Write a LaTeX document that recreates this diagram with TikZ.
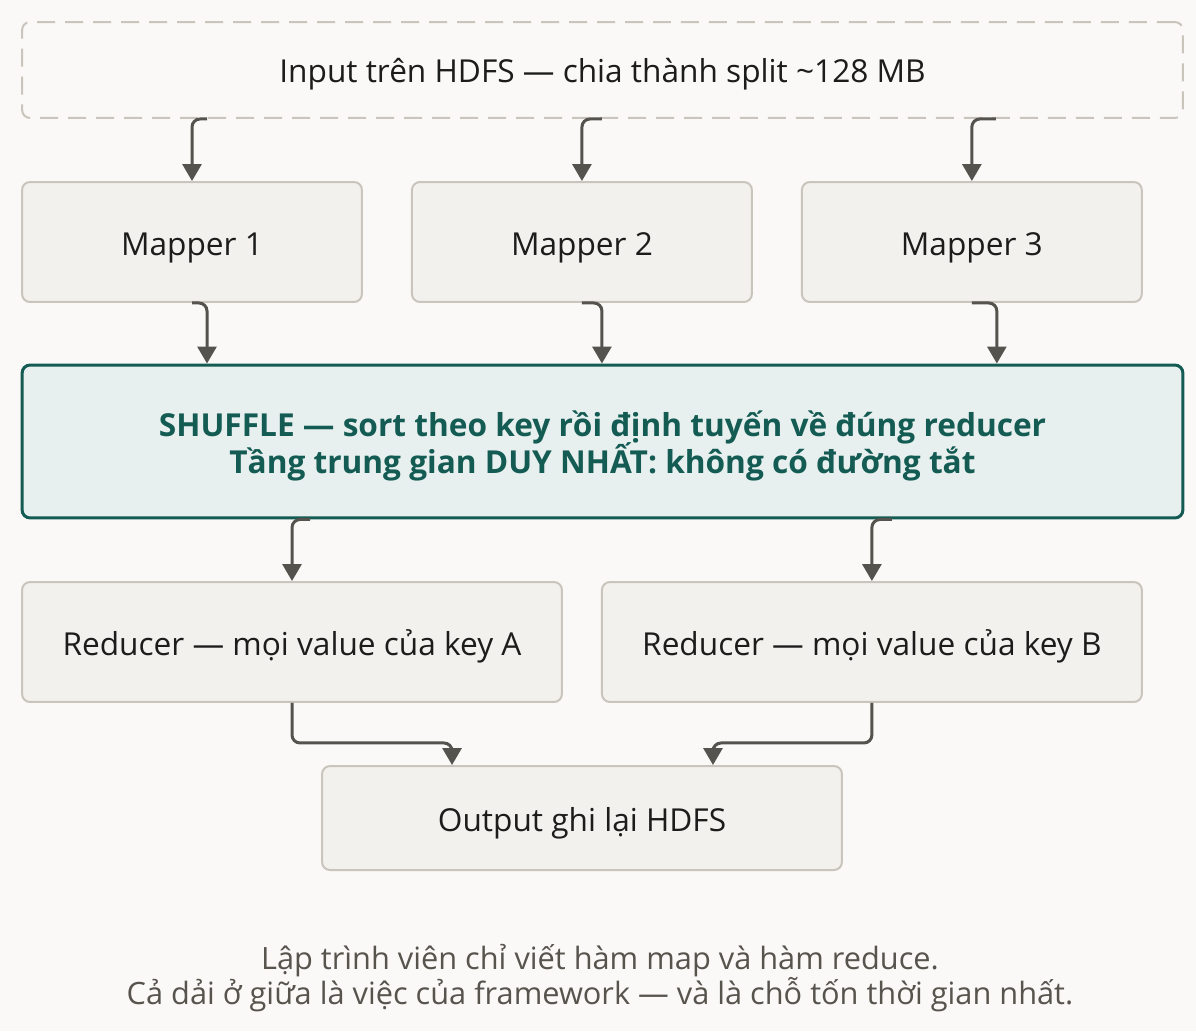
\documentclass[tikz,border=0pt]{standalone}
\usepackage{fontspec}
\setmainfont{Open Sans}
\usetikzlibrary{arrows.meta, positioning}

\definecolor{bgcol}{HTML}{FAF9F7}
\definecolor{boxfill}{HTML}{F2F1EE}
\definecolor{boxline}{HTML}{C9C5BD}
\definecolor{arrowcol}{HTML}{55534E}
\definecolor{tealcol}{HTML}{145B54}
\definecolor{tealfill}{HTML}{E7F0EE}
\definecolor{inkcol}{HTML}{1C1C1A}
\definecolor{notecol}{HTML}{57544E}

\begin{document}
\begin{tikzpicture}[x=0.02cm,y=-0.02cm,>={Triangle[length=0.34cm,width=0.38cm]},
	font=\fontsize{18}{22}\selectfont]

	\tikzset{box/.style={draw=boxline, line width=0.04cm, fill=boxfill,
			rounded corners=0.16cm, text=inkcol, inner sep=0pt,
			text height=0.52cm, text depth=0cm}}
	\tikzset{mapbox/.style={box, minimum width=6.8cm, minimum height=2.4cm}}
	\tikzset{redbox/.style={box, minimum width=10.8cm, minimum height=2.4cm}}
	\tikzset{flow/.style={->, draw=arrowcol, line width=0.06cm,
			rounded corners=0.16cm}}

	\fill[bgcol] (0,0) rectangle (1196,1031);

	\node[box, fill=none, dashed, dash pattern=on 0.36cm off 0.2cm,
		minimum width=23.22cm, minimum height=1.92cm] (input) at (602.5,70)
		{Input trên HDFS — chia thành split \textasciitilde128 MB};

	\node[mapbox] (m1) at (192,242) {Mapper 1};
	\node[mapbox, right=0.96cm of m1] (m2) {Mapper 2};
	\node[mapbox, right=0.96cm of m2] (m3) {Mapper 3};

	\node[draw=tealcol, fill=tealfill, line width=0.06cm, rounded corners=0.16cm,
		minimum width=23.22cm, minimum height=3.06cm, align=center,
		text=tealcol, inner sep=0pt, text height=1.26cm, text depth=0cm,
		font=\fontsize{18}{21.6}\selectfont\bfseries]
		(shuffle) at (602.5,441.5)
		{SHUFFLE — sort theo key rồi định tuyến về đúng reducer\\[-2.3pt]
		 Tầng trung gian DUY NHẤT: không có đường tắt};

	\node[redbox] (redA) at (292,642) {Reducer — mọi value của key A};
	\node[redbox, right=0.76cm of redA] (redB) {Reducer — mọi value của key B};

	\node[box, minimum width=10.4cm, minimum height=2.08cm] (out) at (582,818)
		{Output ghi lại HDFS};

	\node[align=center, text=notecol, font=\fontsize{17.5}{19.9}\selectfont]
		(note) at (600,978)
		{Lập trình viên chỉ viết hàm map và hàm reduce.\\
		 Cả dải ở giữa là việc của framework — và là chỗ tốn thời gian nhất.};

	% input -> mappers
	\draw[flow] ([xshift=0.3cm]m1.north |- input.south) -| (m1.north);
	\draw[flow] ([xshift=0.4cm]m2.north |- input.south) -| (m2.north);
	\draw[flow] ([xshift=0.48cm]m3.north |- input.south) -| (m3.north);

	% mappers -> shuffle
	\draw[flow] (m1.south) -| ([xshift=0.3cm]m1.south |- shuffle.north);
	\draw[flow] (m2.south) -| ([xshift=0.4cm]m2.south |- shuffle.north);
	\draw[flow] (m3.south) -| ([xshift=0.5cm]m3.south |- shuffle.north);

	% shuffle -> reducers
	\draw[flow] ([xshift=0.36cm]redA.north |- shuffle.south) -| (redA.north);
	\draw[flow] ([xshift=0.4cm]redB.north |- shuffle.south) -| (redB.north);

	% reducers -> output
	\draw[flow] (redA.south) -- ++(0,40) -| ([xshift=2.62cm]out.north west);
	\draw[flow] (redB.south) -- ++(0,40) -| ([xshift=-2.6cm]out.north east);
\end{tikzpicture}
\end{document}
